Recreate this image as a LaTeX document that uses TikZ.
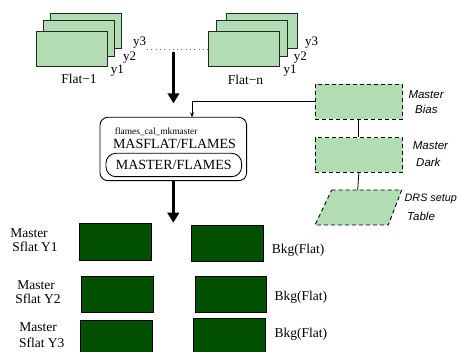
\documentclass[tikz,border=0pt]{standalone}
\usepackage{fontspec}
\setmainfont{Liberation Serif}
\setsansfont{Liberation Sans}
\usetikzlibrary{arrows.meta}
\definecolor{lgreen}{RGB}{178,221,178}
\definecolor{dgreen}{RGB}{0,80,0}
\begin{document}
\begin{tikzpicture}[x=1pt,y=-1pt,
  flatbox/.style={draw=black!85,line width=0.8pt,fill=lgreen,minimum width=71pt,minimum height=35.5pt,inner sep=0pt},
  masterbox/.style={draw=black,line width=0.9pt,fill=dgreen,inner sep=0pt},
  calbox/.style={draw=black,line width=0.9pt,dash pattern=on 4pt off 3pt,fill=lgreen,minimum width=87.7pt,minimum height=34.7pt,inner sep=0pt},
  lbl/.style={inner sep=0pt,font=\fontsize{13.5}{15}\selectfont},
  ylbl/.style={inner sep=0pt,font=\fontsize{13}{15}\selectfont},
  itlbl/.style={inner sep=0pt,anchor=west,font=\sffamily\itshape\fontsize{11.5}{13}\selectfont},
  bigarrow/.style={line width=3.2pt,-{Triangle[length=10pt,width=11.5pt]}},
  thin/.style={line width=0.8pt}
]
\clip (0,0) rectangle (459,352);
\useasboundingbox (0,0) rectangle (459,352);
% Flat-1 stack
\node[flatbox] (f1c) at (85.5,30.8) {};
\node[flatbox] (f1b) at (78.5,38.2) {};
\node[flatbox] (f1a) at (71.5,49) {};
\node[ylbl] (f1y3) at (139.7,42.5) {y3};
\node[ylbl] (f1y2) at (129.7,57.5) {y2};
\node[ylbl] (f1y1) at (117.3,70.5) {y1};
\node[lbl] (f1l) at (79,79) {Flat−1};
% Flat-n stack
\node[flatbox] (fnc) at (262.2,31) {};
\node[flatbox] (fnb) at (251.7,38.2) {};
\node[flatbox] (fna) at (244.3,48.8) {};
\node[ylbl] (fny3) at (311.7,42.5) {y3};
\node[ylbl] (fny2) at (300.3,57.5) {y2};
\node[ylbl] (fny1) at (290,70.5) {y1};
\node[lbl] (fnl) at (245.5,80) {Flat−n};
% dotted link
\coordinate (d1) at (147,49);
\draw[line width=0.9pt,black!60,dash pattern=on 0.9pt off 3.4pt] (d1) -- (d1 -| fna.west);
% arrow into main box
\coordinate (a1s) at (173.5,52);
\coordinate (a1e) at (173.5,103.3);
\draw[bigarrow] (a1s) -- (a1e);
% main box
\node[draw=black,line width=0.9pt,rounded corners=8pt,minimum width=146.7pt,minimum height=63.4pt,inner sep=0pt] (main) at (173.3,149) {};
\node[inner sep=0pt,font=\fontsize{9.4}{11}\selectfont] (prog) at (156.2,132) {flames\_cal\_mkmaster};
\node[lbl,font=\fontsize{14}{16}\selectfont] (masflat) at (174.5,143.7) {MASFLAT/FLAMES};
\node[draw=black,line width=0.9pt,rounded corners=10pt,minimum width=135.7pt,minimum height=23.4pt,inner sep=0pt,font=\fontsize{14}{16}\selectfont] (master) at (173.8,165) {MASTER/FLAMES};
% calibration inputs
\node[calbox] (bias) at (358.8,101.7) {};
\node[itlbl] (biasl1) at (408.3,94.3) {Master};
\node[itlbl] (biasl2) at (415,109) {Bias};
\node[calbox] (dark) at (358.8,155) {};
\node[itlbl] (darkl1) at (412.7,145.7) {Master};
\node[itlbl] (darkl2) at (416,162.5) {Dark};
\draw[thin,fill=lgreen,dash pattern=on 4pt off 3pt,line width=0.9pt] (331.7,190) -- (401.7,190) -- (388.3,225) -- (315,225) -- cycle;
\coordinate (drs) at (357.7,190);
\node[itlbl,font=\sffamily\itshape\fontsize{10.8}{13}\selectfont] (drsl1) at (404.5,199.3) {DRS setup};
\node[itlbl] (drsl2) at (407,216.7) {Table};
\coordinate (mainin) at (192,117.3);
\draw[thin,-{Stealth[length=5pt,width=4pt]}] (bias.west) -| (mainin);
\draw[thin] (bias.south) -- (dark.north);
\draw[thin] (dark.south) -- (drs);
% output arrow
\coordinate (a2e) at (173.3,222.7);
\draw[bigarrow] (main.south) -- (a2e);
% products
\node[masterbox,minimum width=72.4pt,minimum height=36.7pt] (m1) at (115.5,241.7) {};
\node[masterbox,minimum width=71.6pt,minimum height=36pt] (b1) at (227.5,243) {};
\node[masterbox,minimum width=71.6pt,minimum height=36.3pt] (m2) at (117.5,294.2) {};
\node[masterbox,minimum width=71.7pt,minimum height=35.6pt] (b2) at (230.8,294.5) {};
\node[masterbox,minimum width=72pt,minimum height=37pt] (m3) at (116.6,338.5) {};
\node[masterbox,minimum width=71.7pt,minimum height=36.7pt] (b3) at (229.2,336.7) {};
\node[lbl] (m1a) at (29,232.7) {Master};
\node[lbl] (m1b) at (35,247.3) {Sflat Y1};
\node[lbl] (m2a) at (36,285) {Master};
\node[lbl] (m2b) at (38,299.3) {Sflat Y2};
\node[lbl] (m3a) at (38,327) {Master};
\node[lbl] (m3b) at (41.7,343) {Sflat Y3};
\node[lbl,anchor=west] (b1l) at (271.7,250) {Bkg(Flat)};
\node[lbl,anchor=west] (b2l) at (274.3,297.7) {Bkg(Flat)};
\node[lbl,anchor=west] (b3l) at (274.3,334) {Bkg(Flat)};
\end{tikzpicture}
\end{document}
